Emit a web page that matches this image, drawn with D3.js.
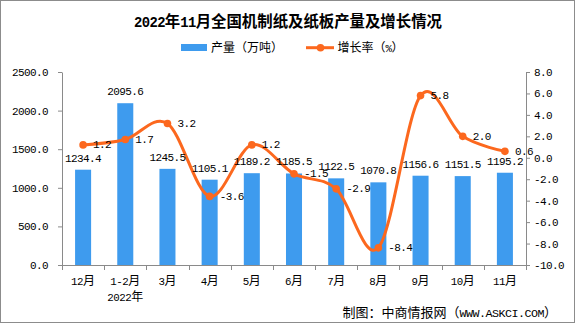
<!DOCTYPE html>
<html><head><meta charset="utf-8">
<script src="https://cdn.jsdelivr.net/npm/d3@7/dist/d3.min.js"></script>
<style>html,body{margin:0;padding:0;background:#fff;}svg{display:block;}</style>
</head><body>
<script>
const categories = ["12月","1-2月","3月","4月","5月","6月","7月","8月","9月","10月","11月"];
const subLabels = ["","2022年","","","","","","","","",""];
const production = [1234.4,2095.6,1245.5,1105.1,1189.2,1185.5,1122.5,1070.8,1156.6,1151.5,1195.2];
const growth = [1.2,1.7,3.2,-3.6,1.2,-1.5,-2.9,-8.4,5.8,2.0,0.6];
const leftTicks = [0,500,1000,1500,2000,2500];
const rightTicks = [-10,-8,-6,-4,-2,0,2,4,6,8];
const titleText = "2022年11月全国机制纸及纸板产量及增长情况";
const legendNames = ["产量（万吨）","增长率（%）"];
const sourceText = "制图：中商情报网（WWW.ASKCI.COM）";

const W = 576, H = 324;
const BLUE = "#3E9BEE", ORANGE = "#FC681E", AXIS = "#8a8a8a";
const CJK = "'Noto Sans CJK SC','Noto Sans',sans-serif";
const MONO = "'Liberation Mono','DejaVu Sans Mono',monospace";
const NUMSIZE = 11, NUMSPACE = -0.6;
const fmt = d3.formatLocale({decimal:".",thousands:",",grouping:[3],currency:["",""],minus:"-"}).format(".1f");

const svg = d3.select("body").append("svg").attr("width", W).attr("height", H);

// rich text: ASCII runs in a monospace at half-width, CJK runs at full size
function rich(g, str, x, y, size, anchor, weight) {
  const t = g.append("text").attr("x", x).attr("y", y).attr("text-anchor", anchor || "start")
    .attr("fill", "#000").attr("font-weight", weight || "normal");
  const runs = str.match(/[\x00-\x7F]+|[^\x00-\x7F]+/g) || [];
  runs.forEach(r => {
    const ascii = /^[\x00-\x7F]+$/.test(r);
    const ts = t.append("tspan").text(r)
      .attr("font-family", ascii ? MONO : CJK)
      .attr("font-size", ascii ? size * 0.9 : size);
    if (ascii) ts.attr("letter-spacing", size * (0.5 - 0.9 * 0.6));
  });
  return t;
}

// frame
svg.append("rect").attr("x", 0.5).attr("y", 0.5).attr("width", 574).attr("height", 322)
  .attr("fill", "none").attr("stroke", "#8c8c8c");

const x = d3.scaleBand().domain(categories).range([62, 526]);
const yL = d3.scaleLinear().domain([0, 2500]).range([265, 72]);
const yR = d3.scaleLinear().domain([-10, 8]).range([265, 72]);
const cx = c => x(c) + x.bandwidth() / 2;
const barW = x.bandwidth() * 0.38;

// title
rich(svg, titleText, 288, 26.7, 15.4, "middle", "bold");

// legend
const lg = svg.append("g");
lg.append("rect").attr("x", 181).attr("y", 44).attr("width", 26).attr("height", 7).attr("fill", BLUE);
rich(lg, legendNames[0], 211, 52.2, 12, "start");
lg.append("line").attr("x1", 306).attr("x2", 334).attr("y1", 47.7).attr("y2", 47.7)
  .attr("stroke", ORANGE).attr("stroke-width", 3);
lg.append("circle").attr("cx", 320.5).attr("cy", 47.7).attr("r", 3.8).attr("fill", ORANGE);
rich(lg, legendNames[1], 337.5, 52.2, 12, "start");

// bars
svg.append("g").selectAll("rect").data(production).join("rect")
  .attr("x", (d, i) => cx(categories[i]) - barW / 2)
  .attr("width", barW)
  .attr("y", d => yL(d))
  .attr("height", d => yL(0) - yL(d))
  .attr("fill", BLUE);

// axes
function styleAxis(g) {
  g.select(".domain").attr("stroke", AXIS);
  g.selectAll(".tick line").attr("stroke", AXIS);
  g.selectAll(".tick text").attr("font-family", MONO).attr("font-size", NUMSIZE)
    .attr("letter-spacing", NUMSPACE).attr("fill", "#000");
}
svg.append("g").attr("transform", "translate(62,0)")
  .call(d3.axisLeft(yL).tickValues(leftTicks).tickFormat(fmt).tickSize(4).tickSizeOuter(0).tickPadding(10))
  .call(styleAxis);
svg.append("g").attr("transform", "translate(526,0)")
  .call(d3.axisRight(yR).tickValues(rightTicks).tickFormat(fmt).tickSize(4).tickSizeOuter(0).tickPadding(4))
  .call(styleAxis);

// bottom axis
const xb = svg.append("g");
xb.append("line").attr("x1", 62).attr("x2", 526).attr("y1", 265.5).attr("y2", 265.5).attr("stroke", AXIS);
const bounds = categories.map(c => x(c)).concat([x.range()[1]]);
xb.selectAll("line.tk").data(bounds).join("line").attr("class", "tk")
  .attr("x1", d => Math.round(d) + 0.5).attr("x2", d => Math.round(d) + 0.5)
  .attr("y1", 265).attr("y2", 270).attr("stroke", AXIS);
categories.forEach((c, i) => {
  rich(xb, c, cx(c), 284.5, 12, "middle");
  if (subLabels[i]) rich(xb, subLabels[i], cx(c), 300.5, 12, "middle");
});

// line
const line = d3.line().x((d, i) => cx(categories[i])).y(d => yR(d)).curve(d3.curveCatmullRom.alpha(0));
svg.append("path").datum(growth).attr("d", line).attr("fill", "none")
  .attr("stroke", ORANGE).attr("stroke-width", 3).attr("stroke-linejoin", "round");
svg.append("g").selectAll("circle").data(growth).join("circle")
  .attr("cx", (d, i) => cx(categories[i])).attr("cy", d => yR(d)).attr("r", 3.8).attr("fill", ORANGE);

// bar value labels
svg.append("g").selectAll("text").data(production).join("text")
  .attr("x", (d, i) => cx(categories[i])).attr("y", d => yL(d) - 8)
  .attr("text-anchor", "middle").attr("font-family", MONO).attr("font-size", NUMSIZE)
  .attr("letter-spacing", NUMSPACE)
  .text(d => fmt(d));

// growth labels
svg.append("g").selectAll("text").data(growth).join("text")
  .attr("x", (d, i) => cx(categories[i]) + 10).attr("y", d => yR(d) + 3.5)
  .attr("text-anchor", "start").attr("font-family", MONO).attr("font-size", NUMSIZE)
  .attr("letter-spacing", NUMSPACE)
  .text(d => fmt(d));

// source
rich(svg, sourceText, 557, 317, 13, "end");
</script>
</body></html>
